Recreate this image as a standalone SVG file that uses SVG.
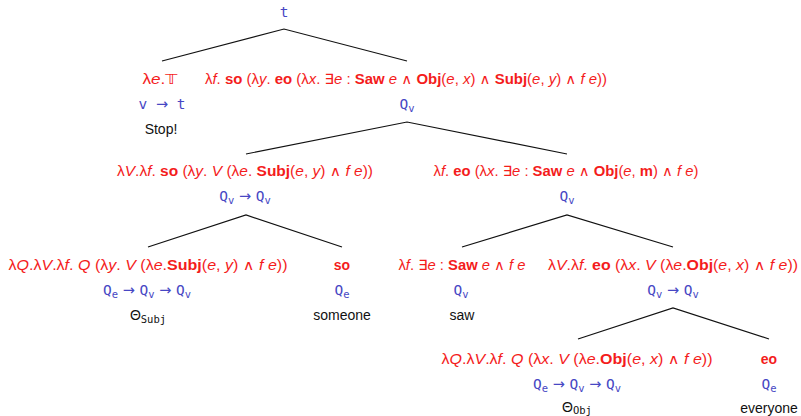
<svg xmlns="http://www.w3.org/2000/svg" width="801" height="416" viewBox="0 0 801 416">
<style>
text { text-anchor: middle; }
.r { fill: #f41c1c; font-family: "Liberation Sans", "DejaVu Sans", sans-serif; font-size: 14px; }
.i { font-style: italic; }
.b { font-weight: bold; }
.q { fill: #4747c4; font-family: "DejaVu Sans Mono", monospace; font-size: 14.5px; }
.a { font-family: "DejaVu Sans", sans-serif; }
.k { fill: #111; font-family: "Liberation Sans", "DejaVu Sans", sans-serif; font-size: 14px; }
.s { font-size: 10.5px; }
.m { font-family: "DejaVu Sans Mono", monospace; }
.edge { stroke: #111; stroke-width: 1.2; fill: none; }
</style>
<g id="connectors">
<polyline class="edge" points="162,61 284,29 407,61"/>
<polyline class="edge" points="246,154 407,122 567,154"/>
<polyline class="edge" points="148,247 246,215 342,247"/>
<polyline class="edge" points="462,247 567,215 673,247"/>
<polyline class="edge" points="578,339 673,308 769,339"/>
</g>
<g id="root">
<text class="q" x="284" y="17">t</text>
</g>
<g id="stop">
<text class="r" x="160" y="84" textLength="35" lengthAdjust="spacingAndGlyphs">λ<tspan class="i">e</tspan>.<tspan font-family="DejaVu Sans">𝕋</tspan></text>
<text class="q" x="162" y="109">v <tspan class="a">→</tspan> t</text>
<text class="k" x="161" y="134">Stop!</text>
</g>
<g id="vp">
<text class="r" x="406" y="84" textLength="402" lengthAdjust="spacingAndGlyphs">λ<tspan class="i">f</tspan>. <tspan class="b">so</tspan> (λ<tspan class="i">y</tspan>. <tspan class="b">eo</tspan> (λ<tspan class="i">x</tspan>. ∃<tspan class="i">e</tspan> : <tspan class="b">Saw</tspan> <tspan class="i">e</tspan> ∧ <tspan class="b">Obj</tspan>(<tspan class="i">e</tspan>, <tspan class="i">x</tspan>) ∧ <tspan class="b">Subj</tspan>(<tspan class="i">e</tspan>, <tspan class="i">y</tspan>) ∧ <tspan class="i">f</tspan> <tspan class="i">e</tspan>))</text>
<text class="q" x="407" y="109">Q<tspan class="s" dy="3">v</tspan></text>
</g>
<g id="subj-phrase">
<text class="r" x="245" y="176" textLength="256" lengthAdjust="spacingAndGlyphs">λ<tspan class="i">V</tspan>.λ<tspan class="i">f</tspan>. <tspan class="b">so</tspan> (λ<tspan class="i">y</tspan>. <tspan class="i">V</tspan> (λ<tspan class="i">e</tspan>. <tspan class="b">Subj</tspan>(<tspan class="i">e</tspan>, <tspan class="i">y</tspan>) ∧ <tspan class="i">f</tspan> <tspan class="i">e</tspan>))</text>
<text class="q" x="245" y="201">Q<tspan class="s" dy="3">v</tspan><tspan class="a" dy="-3"> → </tspan>Q<tspan class="s" dy="3">v</tspan></text>
</g>
<g id="obj-phrase">
<text class="r" x="566" y="176" textLength="265" lengthAdjust="spacingAndGlyphs">λ<tspan class="i">f</tspan>. <tspan class="b">eo</tspan> (λ<tspan class="i">x</tspan>. ∃<tspan class="i">e</tspan> : <tspan class="b">Saw</tspan> <tspan class="i">e</tspan> ∧ <tspan class="b">Obj</tspan>(<tspan class="i">e</tspan>, <tspan class="b">m</tspan>) ∧ <tspan class="i">f</tspan> <tspan class="i">e</tspan>)</text>
<text class="q" x="567" y="201">Q<tspan class="s" dy="3">v</tspan></text>
</g>
<g id="theta-subj">
<text class="r" x="148" y="270" textLength="279" lengthAdjust="spacingAndGlyphs">λ<tspan class="i">Q</tspan>.λ<tspan class="i">V</tspan>.λ<tspan class="i">f</tspan>. <tspan class="i">Q</tspan> (λ<tspan class="i">y</tspan>. <tspan class="i">V</tspan> (λ<tspan class="i">e</tspan>.<tspan class="b">Subj</tspan>(<tspan class="i">e</tspan>, <tspan class="i">y</tspan>) ∧ <tspan class="i">f</tspan> <tspan class="i">e</tspan>))</text>
<text class="q" x="147" y="295">Q<tspan class="s" dy="3">e</tspan><tspan class="a" dy="-3"> → </tspan>Q<tspan class="s" dy="3">v</tspan><tspan class="a" dy="-3"> → </tspan>Q<tspan class="s" dy="3">v</tspan></text>
<text class="k" x="148" y="320">Θ<tspan class="s m" dy="3">Subj</tspan></text>
</g>
<g id="someone">
<text class="r b" x="342" y="270">so</text>
<text class="q" x="342" y="295">Q<tspan class="s" dy="3">e</tspan></text>
<text class="k" x="342" y="320">someone</text>
</g>
<g id="saw">
<text class="r" x="462" y="270" textLength="127" lengthAdjust="spacingAndGlyphs">λ<tspan class="i">f</tspan>. ∃<tspan class="i">e</tspan> : <tspan class="b">Saw</tspan> <tspan class="i">e</tspan> ∧ <tspan class="i">f</tspan> <tspan class="i">e</tspan></text>
<text class="q" x="461" y="295">Q<tspan class="s" dy="3">v</tspan></text>
<text class="k" x="462" y="320">saw</text>
</g>
<g id="obj-lift">
<text class="r" x="673" y="270" textLength="250" lengthAdjust="spacingAndGlyphs">λ<tspan class="i">V</tspan>.λ<tspan class="i">f</tspan>. <tspan class="b">eo</tspan> (λ<tspan class="i">x</tspan>. <tspan class="i">V</tspan> (λ<tspan class="i">e</tspan>.<tspan class="b">Obj</tspan>(<tspan class="i">e</tspan>, <tspan class="i">x</tspan>) ∧ <tspan class="i">f</tspan> <tspan class="i">e</tspan>))</text>
<text class="q" x="673" y="295">Q<tspan class="s" dy="3">v</tspan><tspan class="a" dy="-3"> → </tspan>Q<tspan class="s" dy="3">v</tspan></text>
</g>
<g id="theta-obj">
<text class="r" x="577" y="364" textLength="271" lengthAdjust="spacingAndGlyphs">λ<tspan class="i">Q</tspan>.λ<tspan class="i">V</tspan>.λ<tspan class="i">f</tspan>. <tspan class="i">Q</tspan> (λ<tspan class="i">x</tspan>. <tspan class="i">V</tspan> (λ<tspan class="i">e</tspan>.<tspan class="b">Obj</tspan>(<tspan class="i">e</tspan>, <tspan class="i">x</tspan>) ∧ <tspan class="i">f</tspan> <tspan class="i">e</tspan>))</text>
<text class="q" x="577" y="389">Q<tspan class="s" dy="3">e</tspan><tspan class="a" dy="-3"> → </tspan>Q<tspan class="s" dy="3">v</tspan><tspan class="a" dy="-3"> → </tspan>Q<tspan class="s" dy="3">v</tspan></text>
<text class="k" x="577" y="412">Θ<tspan class="s m" dy="2">Obj</tspan></text>
</g>
<g id="everyone">
<text class="r b" x="769" y="364">eo</text>
<text class="q" x="769" y="389">Q<tspan class="s" dy="3">e</tspan></text>
<text class="k" x="769" y="413">everyone</text>
</g>
</svg>
